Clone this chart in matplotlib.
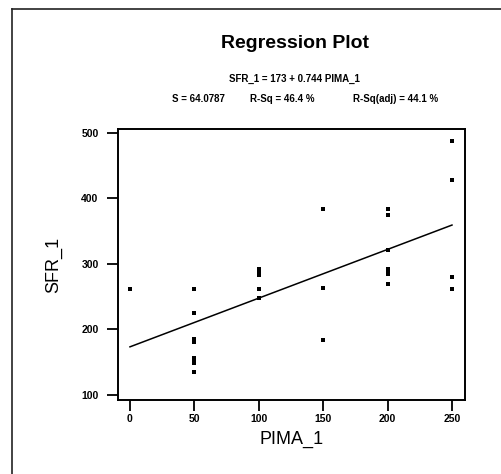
import matplotlib
matplotlib.use("Agg")
import matplotlib.pyplot as plt
from matplotlib.lines import Line2D

# Data
pima = [0,
        50, 50, 50, 50, 50, 50, 50, 50,
        100, 100, 100, 100, 100,
        150, 150, 150,
        200, 200, 200, 200, 200, 200, 200,
        250, 250, 250, 250]
sfr = [261,
       261, 225, 185, 181, 156, 152, 148, 134,
       292, 288, 283, 261, 248,
       384, 263, 183,
       383, 375, 321, 292, 288, 285, 269,
       488, 428, 279, 261]

intercept = 173
slope = 0.744
line_x = [0, 250]

x_ticks = [0, 50, 100, 150, 200, 250]
y_ticks = [100, 200, 300, 400, 500]

W, H = 501, 474

plt.rcParams["font.family"] = ["Liberation Sans", "DejaVu Sans"]

fig = plt.figure(figsize=(W / 100, H / 100), dpi=100)
fig.patch.set_facecolor("white")

# outer frame (top and left edges of the window)
fig.add_artist(Line2D([12 / W, 12 / W], [0, 1 - 9 / H], transform=fig.transFigure,
                      color="#222222", lw=1.2))
fig.add_artist(Line2D([12 / W, 1], [1 - 9 / H, 1 - 9 / H], transform=fig.transFigure,
                      color="#222222", lw=1.2))

ax = fig.add_axes([118 / W, 74 / H, 347 / W, 271 / H])

ax.scatter(pima, sfr, marker="s", s=5.5, color="black", linewidths=0)
line_y = [intercept + slope * v for v in line_x]
ax.plot(line_x, line_y, color="black", lw=1.1)

ax.set_xlim(-9.3, 260.1)
ax.set_ylim(91.8, 505.7)
ax.set_xticks(x_ticks)
ax.set_yticks(y_ticks)
ax.tick_params(direction="out", length=8, width=1.3, labelsize=7.5, colors="black")
ax.tick_params(axis="y", pad=6)
ax.tick_params(axis="x", pad=2)
for lab in ax.get_xticklabels() + ax.get_yticklabels():
    lab.set_fontweight("bold")
for sp in ax.spines.values():
    sp.set_linewidth(1.4)

ax.set_xlabel("PIMA_1", fontsize=13, labelpad=5)
ax.set_ylabel("SFR_1", fontsize=13, labelpad=14)

# titles
fig.text(295 / W, 1 - 43 / H, "Regression Plot", ha="center", va="center",
         fontsize=14, fontweight="bold")
fig.text(294 / W, 1 - 79 / H, "SFR_1 = 173 + 0.744 PIMA_1", ha="center", va="center",
         fontsize=7, fontweight="bold")
fig.text(172 / W, 1 - 99 / H, "S = 64.0787", ha="left", va="center",
         fontsize=7, fontweight="bold")
fig.text(250 / W, 1 - 99 / H, "R-Sq = 46.4 %", ha="left", va="center",
         fontsize=7, fontweight="bold")
fig.text(353 / W, 1 - 99 / H, "R-Sq(adj) = 44.1 %", ha="left", va="center",
         fontsize=7, fontweight="bold")

fig.savefig("out.png", dpi=100)
